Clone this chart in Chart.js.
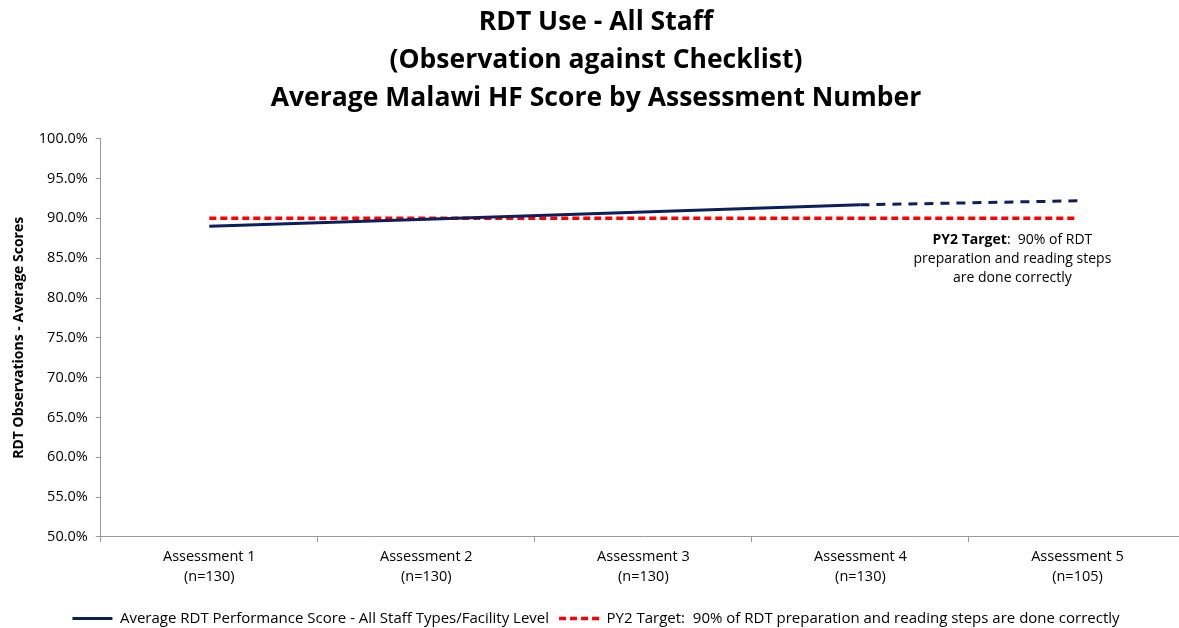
<!DOCTYPE html>
<html>
<head>
<meta charset="utf-8">
<script src="https://cdn.jsdelivr.net/npm/chart.js@4/dist/chart.umd.min.js"></script>
<style>
  html, body { margin: 0; padding: 0; background: #fff; overflow: hidden; }
  #wrap { width: 1186px; height: 628px; }
</style>
</head>
<body>
<div id="wrap"><canvas id="rdtChart"></canvas></div>
<script>
// data
const assessments = [
    ['Assessment 1', '(n=130)'],
    ['Assessment 2', '(n=130)'],
    ['Assessment 3', '(n=130)'],
    ['Assessment 4', '(n=130)'],
    ['Assessment 5', '(n=105)']
];
const avgScore = [0.890, 0.899, 0.908, 0.917, 0.922];
const targetScore = [0.90, 0.90, 0.90, 0.90, 0.90];
const targetNote = ['PY2 Target', ':  90% of RDT', 'preparation and reading steps', 'are done correctly'];

const FONT = "'Open Sans', 'Noto Sans', sans-serif";

// draws the target note under the red line
const notePlugin = {
    id: 'targetNote',
    afterDatasetsDraw(chart) {
        const ctx = chart.ctx;
        const x = chart.scales.x.getPixelForValue(3) + 152;
        const y = chart.scales.y.getPixelForValue(0.90) + 22;
        ctx.save();
        ctx.fillStyle = '#000';
        ctx.textBaseline = 'middle';
        ctx.font = 'bold 14px ' + FONT;
        const w1 = ctx.measureText(targetNote[0]).width;
        ctx.font = '14px ' + FONT;
        const w2 = ctx.measureText(targetNote[1]).width;
        let left = x - (w1 + w2) / 2;
        ctx.textAlign = 'left';
        ctx.font = 'bold 14px ' + FONT;
        ctx.fillText(targetNote[0], left, y);
        ctx.font = '14px ' + FONT;
        ctx.fillText(targetNote[1], left + w1, y);
        ctx.textAlign = 'center';
        ctx.fillText(targetNote[2], x, y + 19);
        ctx.fillText(targetNote[3], x, y + 38);
        ctx.restore();
    }
};

new Chart(document.getElementById('rdtChart').getContext('2d'), {
    type: 'line',
    data: {
        labels: assessments,
        datasets: [{
            label: 'Average RDT Performance Score - All Staff Types/Facility Level',
            data: avgScore,
            borderColor: '#0b1f5c',
            backgroundColor: '#0b1f5c',
            borderWidth: 3,
            pointRadius: 0,
            tension: 0,
            segment: {
                borderDash: c => c.p0DataIndex === 3 ? [9, 7] : undefined
            }
        }, {
            label: 'PY2 Target:  90% of RDT preparation and reading steps are done correctly',
            data: targetScore,
            borderColor: '#ff0000',
            backgroundColor: '#ff0000',
            borderWidth: 3.5,
            borderDash: [7, 4],
            pointRadius: 0
        }]
    },
    options: {
        responsive: true,
        maintainAspectRatio: false,
        animation: false,
        layout: { padding: { left: 6, right: 0, top: 4, bottom: -8 } },
        plugins: {
            title: {
                display: true,
                text: ['RDT Use - All Staff', '(Observation against Checklist)', 'Average Malawi HF Score by Assessment Number'],
                color: '#000',
                font: { family: FONT, size: 26.5, weight: 'bold', lineHeight: 1.43 },
                padding: { top: 0, bottom: 21 }
            },
            legend: {
                position: 'bottom',
                labels: {
                    usePointStyle: true,
                    pointStyle: 'line',
                    pointStyleWidth: 40,
                    color: '#000',
                    font: { family: FONT, size: 15 },
                    padding: 10,
                    generateLabels: chart => {
                        const items = Chart.defaults.plugins.legend.labels.generateLabels(chart);
                        items.forEach(it => {
                            const ds = chart.data.datasets[it.datasetIndex];
                            it.lineDash = ds.borderDash || [];
                            it.lineWidth = ds.borderWidth;
                            it.strokeStyle = ds.borderColor;
                        });
                        return items;
                    }
                }
            },
            tooltip: { enabled: false }
        },
        scales: {
            x: {
                offset: true,
                grid: { display: true, offset: true, drawOnChartArea: false, drawTicks: true, tickLength: 5, color: '#999' },
                border: { color: '#999' },
                ticks: { color: '#000', font: { family: FONT, size: 14.5, lineHeight: 1.38 }, padding: 5, maxRotation: 0 },
                afterFit: s => { s.height += 9; }
            },
            y: {
                min: 0.5,
                max: 1.0,
                grid: { display: true, drawOnChartArea: false, drawTicks: true, tickLength: 5, color: '#999' },
                border: { color: '#999' },
                ticks: {
                    stepSize: 0.05,
                    color: '#000',
                    font: { family: FONT, size: 14.5 },
                    padding: 8,
                    callback: v => (v * 100).toFixed(1) + '%'
                },
                title: {
                    display: true,
                    text: 'RDT Observations - Average Scores',
                    color: '#000',
                    font: { family: FONT, size: 14, weight: 'bold' },
                    padding: { top: 5, bottom: 3 }
                }
            }
        }
    },
    plugins: [notePlugin]
});
</script>
</body>
</html>
